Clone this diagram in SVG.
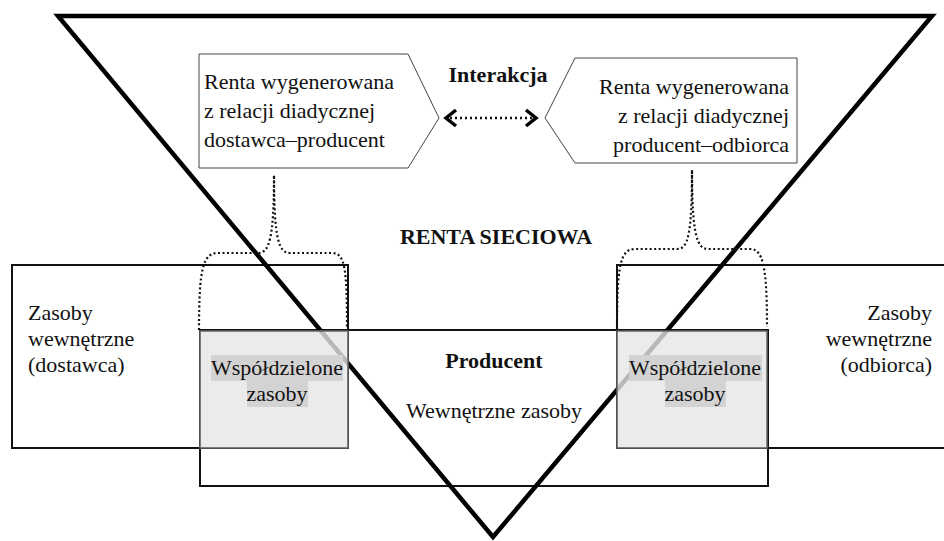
<svg xmlns="http://www.w3.org/2000/svg" width="944" height="541" viewBox="0 0 944 541">
<style>
text{font-family:'Liberation Serif','Times New Roman','DejaVu Serif',serif;font-size:22px;fill:#111}
.b{font-weight:bold}
.box{fill:none;stroke:#111;stroke-width:2}
.shared{fill:#e6e6e6;fill-opacity:0.8;stroke:#666;stroke-width:1.5}
.hl{fill:#d3d3d3}
.pent{fill:#fff;stroke:#444;stroke-width:1}
.brace{fill:none;stroke:#111;stroke-width:2.2;stroke-dasharray:2 2.5}
.tri{fill:none;stroke:#000;stroke-width:4.5;stroke-linejoin:miter}
.chev{fill:none;stroke:#000;stroke-width:3.5}
</style>
<rect width="944" height="541" fill="#fff"/>
<g id="dostawca">
<rect class="box" x="12" y="265" width="336" height="183"/>
<text x="28" y="320">Zasoby</text>
<text x="28" y="346">wewnętrzne</text>
<text x="28" y="372">(dostawca)</text>
</g>
<g id="odbiorca">
<rect class="box" x="617" y="265" width="340" height="183"/>
<text x="932" y="320" text-anchor="end">Zasoby</text>
<text x="932" y="346" text-anchor="end">wewnętrzne</text>
<text x="932" y="372" text-anchor="end">(odbiorca)</text>
</g>
<g id="producent">
<rect class="box" x="200" y="330" width="568" height="156"/>
<text class="b" x="494" y="368" text-anchor="middle">Producent</text>
<text x="494" y="418" text-anchor="middle">Wewnętrzne zasoby</text>
</g>
<g id="trojkat">
<polygon class="tri" points="58,16 932,16 493,537"/>
<text class="b" x="496" y="244" text-anchor="middle">RENTA SIECIOWA</text>
</g>
<g id="wspoldzielone-lewe">
<rect class="shared" x="200" y="331" width="148" height="117"/>
<rect class="hl" x="211" y="355" width="132" height="26"/>
<rect class="hl" x="247" y="381" width="61" height="26"/>
<text x="277" y="375" text-anchor="middle">Współdzielone</text>
<text x="277" y="401" text-anchor="middle">zasoby</text>
</g>
<g id="wspoldzielone-prawe">
<rect class="shared" x="617" y="331" width="150" height="117"/>
<rect class="hl" x="629" y="355" width="133" height="26"/>
<rect class="hl" x="665" y="381" width="61" height="26"/>
<text x="695" y="375" text-anchor="middle">Współdzielone</text>
<text x="695" y="401" text-anchor="middle">zasoby</text>
</g>
<g id="renta-dostawca-producent">
<polygon class="pent" points="199,54 408,54 439,118 408,168 199,168"/>
<text x="204" y="89">Renta wygenerowana</text>
<text x="204" y="118">z relacji diadycznej</text>
<text x="204" y="147">dostawca–producent</text>
</g>
<g id="renta-producent-odbiorca">
<polygon class="pent" points="545,118 575,58 797,58 797,163 575,163"/>
<text x="789" y="94" text-anchor="end">Renta wygenerowana</text>
<text x="789" y="123" text-anchor="end">z relacji diadycznej</text>
<text x="789" y="152" text-anchor="end">producent–odbiorca</text>
</g>
<g id="interakcja">
<text class="b" x="498" y="82" text-anchor="middle">Interakcja</text>
</g>
<g id="connectors">
<path class="brace" d="M199,330 C199,268 203,253 218,253 L258,253 C269,253 274,240 274,175 C274,240 279,253 290,253 L332,253 C345,253 347,268 347,330"/>
<path class="brace" d="M617,330 C617,266 620,249 635,249 L677,249 C688,249 692,235 692,170 C692,235 697,249 708,249 L750,249 C763,249 767,266 767,327"/>
<line x1="450" y1="118" x2="532" y2="118" stroke="#111" stroke-width="2.5" stroke-dasharray="2 3"/>
<polyline class="chev" points="456,110 446,118 456,126"/>
<polyline class="chev" points="526,110 536,118 526,126"/>
</g>
</svg>
